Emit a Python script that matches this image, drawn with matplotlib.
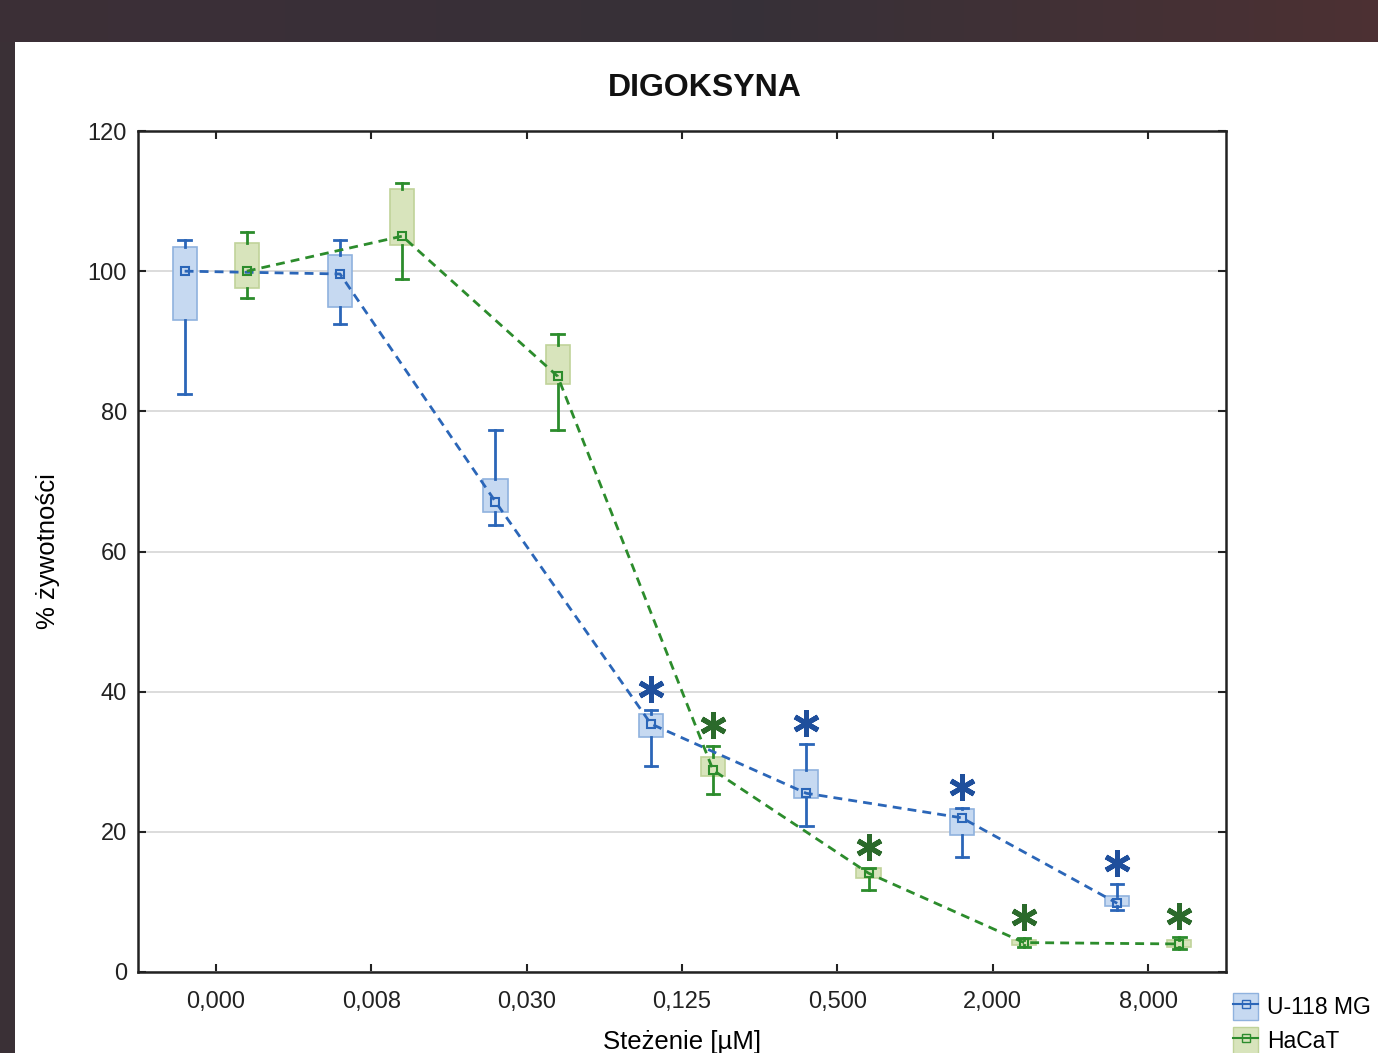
import numpy as np
import matplotlib
matplotlib.use("Agg")
from matplotlib import pyplot as plt
from matplotlib.patches import Rectangle, Patch
from matplotlib.lines import Line2D
from matplotlib.transforms import ScaledTranslation

plt.rcParams['font.family'] = ['Liberation Sans', 'DejaVu Sans']

# concentration categories
categories = ["0,000", "0,008", "0,030", "0,125", "0,500", "2,000", "8,000"]

# U-118 MG: median, box (q1, q3), whiskers (min, max)
u_med = [100.0, 99.6, 67.1, 35.4, 25.5, 22.0, 9.8]
u_q1 = [93.0, 94.9, 65.6, 33.5, 24.8, 19.5, 9.4]
u_q3 = [103.5, 102.3, 70.3, 36.8, 28.8, 23.3, 10.8]
u_min = [82.5, 92.5, 63.8, 29.4, 20.8, 16.4, 8.8]
u_max = [104.5, 104.5, 77.3, 37.4, 32.5, 23.4, 12.6]
u_sig = [False, False, False, True, True, True, True]

# HaCaT
h_med = [100.0, 105.0, 85.0, 28.8, 14.1, 4.2, 4.0]
h_q1 = [97.6, 103.7, 83.9, 28.0, 13.4, 3.8, 3.5]
h_q3 = [104.0, 111.7, 89.5, 30.7, 14.8, 4.6, 4.6]
h_min = [96.2, 98.9, 77.3, 25.4, 11.7, 3.5, 3.3]
h_max = [105.6, 112.6, 91.0, 32.2, 14.8, 4.8, 5.0]
h_sig = [False, False, False, True, True, True, True]

W, H = 1378, 1053
fig = plt.figure(figsize=(W / 100, H / 100), dpi=100)
fig.patch.set_facecolor("#3a3036")

# dark screenshot frame: gradient band on top, white page below
band = fig.add_axes([0, 1 - 42 / H, 1, 42 / H])
grad = np.linspace(0, 1, 256)
c0 = np.array([0.235, 0.185, 0.215])
c1 = np.array([0.215, 0.19, 0.22])
c2 = np.array([0.30, 0.19, 0.20])
cols = np.where(grad[:, None] < 0.55,
                c0 + (c1 - c0) * (grad[:, None] / 0.55),
                c1 + (c2 - c1) * ((grad[:, None] - 0.55) / 0.45))
band.imshow(cols[None, :, :], aspect="auto", extent=[0, 1, 0, 1])
band.axis("off")
fig.patches.append(Rectangle((15 / W, 0), 1 - 15 / W, 1 - 42 / H,
                             transform=fig.transFigure, facecolor="white",
                             edgecolor="none", zorder=-10))

ax = fig.add_axes([138 / W, 1 - 972 / H, (1226 - 138) / W, (972 - 131) / H])
ax.set_zorder(2)
ax.set_facecolor("white")

blue_line = "#2b66b8"
blue_fill = "#c6d9f1"
blue_edge = "#8fb2de"
blue_star = "#1f4f9c"
green_line = "#2c8c2c"
green_fill = "#d8e4bc"
green_edge = "#c0d39a"
green_star = "#2b6a2b"

x = np.arange(len(categories)) + 0.5
off = 0.2
bw = 0.155
star_shift = ax.transData + ScaledTranslation(0, 0.21, fig.dpi_scale_trans)


def draw_series(xs, med, q1, q3, lo, hi, sig, line_c, fill_c, edge_c, star_c):
    for xi, m, a, b, l, h, s in zip(xs, med, q1, q3, lo, hi, sig):
        ax.add_patch(Rectangle((xi - bw / 2, a), bw, b - a, facecolor=fill_c,
                               edgecolor=edge_c, linewidth=1.2, zorder=2))
        ax.plot([xi, xi], [b, h], color=line_c, lw=2, zorder=3)
        ax.plot([xi, xi], [l, a], color=line_c, lw=2, zorder=3)
        ax.plot([xi - 0.04, xi + 0.04], [h, h], color=line_c, lw=2, zorder=3)
        ax.plot([xi - 0.04, xi + 0.04], [l, l], color=line_c, lw=2, zorder=3)
        if s:
            ax.plot(xi, h, marker=(6, 2, 0), markersize=19, markeredgewidth=3.6,
                    color=star_c, linestyle="none", zorder=5,
                    transform=star_shift)
    ax.plot(xs, med, color=line_c, lw=2, linestyle=(0, (3.2, 2.2)), zorder=4)
    ax.plot(xs, med, color=line_c, linestyle="none", marker="s", markersize=6,
            markerfacecolor="none", markeredgewidth=1.5, zorder=4)


draw_series(x - off, u_med, u_q1, u_q3, u_min, u_max, u_sig,
            blue_line, blue_fill, blue_edge, blue_star)
draw_series(x + off, h_med, h_q1, h_q3, h_min, h_max, h_sig,
            green_line, green_fill, green_edge, green_star)

ax.set_xlim(0, len(categories))
ax.set_ylim(0, 120)
ax.set_xticks(x)
ax.set_xticklabels(categories)
ax.set_yticks(np.arange(0, 121, 20))
ax.yaxis.grid(True, color="#d9d9d9", linewidth=1.3, zorder=0)
ax.set_axisbelow(True)
ax.tick_params(direction="in", length=6, width=1.5, top=True, right=True,
               labelsize=17, colors="#222222")
ax.tick_params(axis="y", pad=8)
ax.tick_params(axis="x", pad=14)
for sp in ax.spines.values():
    sp.set_linewidth(1.8)
    sp.set_color("#222222")

fig.text(705 / W, 1 - 88 / H, "DIGOKSYNA", fontsize=23, fontweight="bold",
         ha="center", va="center", color="#111111")
ax.set_ylabel("% żywotności", fontsize=18.5, labelpad=20)
ax.set_xlabel("Steżenie [µM]", fontsize=18.5, labelpad=12)

handles = [
    (Patch(facecolor=blue_fill, edgecolor=blue_edge),
     Line2D([], [], color=blue_line, marker="s", markersize=6,
            markerfacecolor="none", lw=1.5)),
    (Patch(facecolor=green_fill, edgecolor=green_edge),
     Line2D([], [], color=green_line, marker="s", markersize=6,
            markerfacecolor="none", lw=1.5)),
]
fig.legend(handles, ["U-118 MG", "HaCaT"], loc="upper left",
           bbox_to_anchor=(1233 / W, 1 - 993 / H), frameon=False,
           fontsize=16.5, handlelength=1.1, handleheight=1.45,
           handletextpad=0.4, labelspacing=0.3, borderaxespad=0,
           borderpad=0)

fig.savefig("out.png", dpi=100)
